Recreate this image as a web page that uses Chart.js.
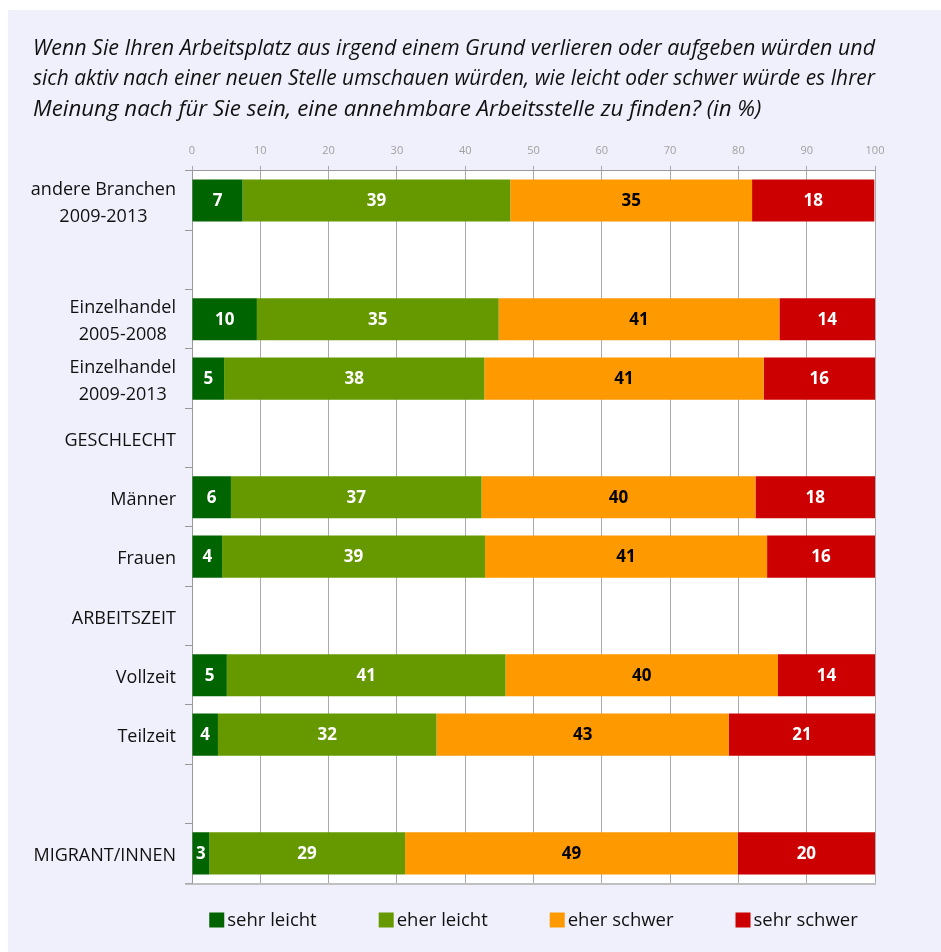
<!DOCTYPE html>
<html lang="de">
<head>
<meta charset="utf-8">
<title>Arbeitsplatzsuche</title>
<script src="https://cdn.jsdelivr.net/npm/chart.js@4/dist/chart.umd.min.js"></script>
<style>
    body { margin: 0; background: #fff; }
    #panel { position: absolute; left: 8px; top: 10px; width: 933px; height: 942px; background: #f0f0fc; }
    canvas { display: block; }
</style>
</head>
<body>
<div id="panel"><canvas id="chart" width="933" height="942"></canvas></div>
<script>
// rows of the chart, empty strings are spacer rows
const categories = [
    ['andere Branchen', '2009-2013'], '',
    ['Einzelhandel', '2005-2008'], ['Einzelhandel', '2009-2013'],
    'GESCHLECHT', 'Männer', 'Frauen',
    'ARBEITSZEIT', 'Vollzeit', 'Teilzeit', '',
    'MIGRANT/INNEN'
];
const seriesNames = ['sehr leicht', 'eher leicht', 'eher schwer', 'sehr schwer'];
const sehrLeicht = [7.4, null, 9.5, 4.7, null, 5.7, 4.4, null, 5.1, 3.8, null, 2.5];
const eherLeicht = [39.2, null, 35.4, 38.1, null, 36.7, 38.5, null, 40.8, 32.0, null, 28.7];
const eherSchwer = [35.4, null, 41.1, 40.9, null, 40.1, 41.3, null, 39.9, 42.8, null, 48.7];
const sehrSchwer = [17.9, null, 14.0, 16.3, null, 17.5, 15.8, null, 14.2, 21.4, null, 20.1];
const xTicks = [0, 10, 20, 30, 40, 50, 60, 70, 80, 90, 100];

const titleLines = [
    'Wenn Sie Ihren Arbeitsplatz aus irgend einem Grund verlieren oder aufgeben würden und',
    'sich aktiv nach einer neuen Stelle umschauen würden, wie leicht oder schwer würde es Ihrer',
    'Meinung nach für Sie sein, eine annehmbare Arbeitsstelle zu finden? (in %)'
];

const colors = ['#006400', '#669900', '#ff9900', '#cc0000'];
const labelColors = ['#fff', '#fff', '#000', '#fff'];
const FONT = '"Open Sans", "Noto Sans", sans-serif';

// white plot area and the closing line under the last row
const plotFrame = {
    id: 'plotFrame',
    beforeDraw(chart) {
        const { ctx, chartArea: a } = chart;
        ctx.save();
        ctx.fillStyle = '#fff';
        ctx.fillRect(a.left, a.top, a.right - a.left, a.bottom - a.top);
        ctx.restore();
    },
    afterDraw(chart) {
        const { ctx, chartArea: a } = chart;
        ctx.save();
        ctx.strokeStyle = '#b0b0b0';
        ctx.lineWidth = 1.5;
        ctx.beginPath();
        ctx.moveTo(a.left - 7, a.bottom + 1);
        ctx.lineTo(a.right + 1, a.bottom + 1);
        ctx.stroke();
        ctx.restore();
    }
};

// rounded percentages inside each segment
const barValues = {
    id: 'barValues',
    afterDatasetsDraw(chart) {
        const { ctx } = chart;
        ctx.save();
        ctx.font = `bold 17px ${FONT}`;
        ctx.textAlign = 'center';
        ctx.textBaseline = 'middle';
        chart.data.datasets.forEach((ds, di) => {
            const meta = chart.getDatasetMeta(di);
            ctx.fillStyle = labelColors[di];
            meta.data.forEach((bar, i) => {
                const v = ds.data[i];
                if (v === null) return;
                ctx.fillText(String(Math.round(v)), (bar.x + bar.base) / 2, bar.y + 1);
            });
        });
        ctx.restore();
    }
};

// row captions: two-line captions are centred on each other, the block sits right
const categoryLabels = {
    id: 'categoryLabels',
    afterDraw(chart) {
        const { ctx, chartArea, scales: { y } } = chart;
        ctx.save();
        ctx.font = `18px ${FONT}`;
        ctx.fillStyle = '#111';
        ctx.textAlign = 'center';
        ctx.textBaseline = 'middle';
        const right = chartArea.left - 16;
        chart.data.labels.forEach((label, i) => {
            const lines = Array.isArray(label) ? label : [label];
            if (!lines[0]) return;
            const w = Math.max(...lines.map(l => ctx.measureText(l).width));
            const cy = y.getPixelForValue(i) + 2.5;
            lines.forEach((line, k) => {
                ctx.fillText(line, right - w / 2, cy + (k - (lines.length - 1) / 2) * 27);
            });
        });
        ctx.restore();
    }
};

// single legend row under the plot
const legendRow = {
    id: 'legendRow',
    afterDraw(chart) {
        const { ctx, chartArea } = chart;
        ctx.save();
        ctx.font = `18.5px ${FONT}`;
        ctx.textBaseline = 'middle';
        ctx.textAlign = 'left';
        const box = 15, gap = 3, spacing = 62;
        const items = chart.data.datasets.map(ds => ({
            text: ds.label,
            color: ds.backgroundColor,
            w: box + gap + ctx.measureText(ds.label).width
        }));
        const total = items.reduce((s, it) => s + it.w, 0) + spacing * (items.length - 1);
        let x = (chartArea.left + chartArea.right) / 2 - total / 2;
        const cy = chartArea.bottom + 37;
        items.forEach(it => {
            ctx.fillStyle = it.color;
            ctx.fillRect(x, cy - box / 2, box, box);
            ctx.fillStyle = '#111';
            ctx.fillText(it.text, x + box + gap, cy + 1);
            x += it.w + spacing;
        });
        ctx.restore();
    }
};

const values = [sehrLeicht, eherLeicht, eherSchwer, sehrSchwer];

new Chart(document.getElementById('chart'), {
    type: 'bar',
    data: {
        labels: categories,
        datasets: seriesNames.map((name, i) => ({
            label: name,
            data: values[i],
            backgroundColor: colors[i],
            borderWidth: 0,
            categoryPercentage: 1,
            barPercentage: 0.71
        }))
    },
    options: {
        indexAxis: 'y',
        responsive: false,
        animation: false,
        layout: { padding: { left: 25, right: 66, top: 0, bottom: 69 } },
        plugins: {
            legend: { display: false },
            tooltip: { enabled: false },
            title: {
                display: true,
                text: titleLines,
                align: 'start',
                color: '#111',
                font: { family: FONT, size: 22.3, style: 'italic', weight: 'normal', lineHeight: 1.37 },
                padding: { top: 23, bottom: 12 }
            }
        },
        scales: {
            x: {
                position: 'top',
                stacked: true,
                min: 0,
                max: 100,
                afterBuildTicks: scale => { scale.ticks = xTicks.map(v => ({ value: v })); },
                ticks: { color: '#a0a0a0', padding: 8, font: { family: FONT, size: 11 } },
                grid: { color: '#aaaaaa', tickLength: 5, lineWidth: 1 },
                border: { color: '#999' }
            },
            y: {
                stacked: true,
                afterFit: scale => { scale.width = 159; },
                ticks: { display: false },
                grid: { drawOnChartArea: false, offset: true, tickLength: 7, color: '#999' },
                border: { color: '#999' }
            }
        }
    },
    plugins: [plotFrame, barValues, categoryLabels, legendRow]
});
</script>
</body>
</html>
